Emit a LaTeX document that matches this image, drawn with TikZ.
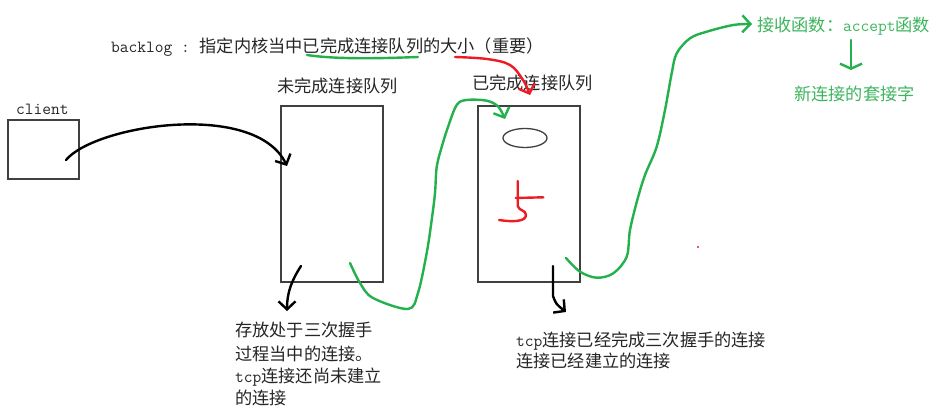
\documentclass[tikz,border=0pt]{standalone}
\usepackage{fontspec}
\setmainfont{Noto Sans CJK SC}
\usetikzlibrary{arrows.meta}
\definecolor{pgreen}{HTML}{22B14C}
\definecolor{pred}{HTML}{ED1C24}
\definecolor{tgray}{HTML}{262626}
\definecolor{tgreen}{HTML}{3DB55E}
\definecolor{boxgray}{HTML}{404040}
\newcommand{\cjktext}{\fontsize{17.2}{20}\selectfont}
\newcommand{\latmono}{\ttfamily\fontsize{17}{20}\selectfont}
\begin{document}
\begin{tikzpicture}[x=1pt,y=-1pt,
  lbl/.style={anchor=base west, inner sep=0pt, text=tgray, font=\cjktext},
  glbl/.style={lbl, text=tgreen},
  boxs/.style={draw=boxgray, line width=1.4pt, inner sep=0pt},
  pen/.style={line width=2.4pt, line cap=round, line join=round},
  barb/.style={-{Straight Barb[length=8pt,width=17pt]}}
]
\useasboundingbox[fill=white] (0,0) rectangle (938,411);

% boxes
\node[boxs, minimum width=71, minimum height=59] (client) at (43.5,149.5) {};
\node[boxs, minimum width=102, minimum height=176] (pending) at (332,194) {};
\node[boxs, minimum width=102, minimum height=176] (done) at (529,194) {};
\draw[boxgray, line width=1.3pt] (525,138) ellipse [x radius=22, y radius=9.5];

% labels
\node[lbl] (clientlbl) at (16,115) {\latmono client};
\node[lbl] (backlog) at (111,53) {{\latmono backlog :\ }\hspace{1pt}指定内核当中已完成连接队列的大小（重要）};
\node[lbl] (pendlbl) at (277,92.5) {未完成连接队列};
\node[lbl] (donelbl) at (472,90) {已完成连接队列};
\node[glbl] (accept) at (757,32) {接收函数：{\latmono accept}函数};
\node[glbl] (newsock) at (794,101) {新连接的套接字};
\node[lbl] (p1) at (235,337) {存放处于三次握手};
\node[lbl] (p2) at (235,361) {过程当中的连接。};
\node[lbl] (p3) at (235,383) {{\latmono tcp}连接还尚未建立};
\node[lbl] (p4) at (235,405) {的连接};
\node[lbl] (d1) at (516,347) {{\latmono tcp}连接已经完成三次握手的连接};
\node[lbl] (d2) at (516,368) {连接已经建立的连接};

% coordinates
\coordinate (cs) at (66,160);
\coordinate (ce) at (287,166);
\coordinate (ps) at (301,266);
\coordinate (pe) at (287,311);
\coordinate (ds) at (553,266);
\coordinate (de) at (566,312);
\coordinate (as) at (851,40);
\coordinate (ae) at (851,70);

% black arrows
\draw[pen, black, barb] (cs) .. controls (95,125) and (255,100) .. (ce);
\draw[pen, black, barb] (ps) .. controls (292,280) and (287,292) .. (pe);
\draw[pen, black, barb] (ds) -- (553,296) .. controls (556,304) .. (de);

% green strokes
\draw[pen, pgreen] (307,55) .. controls (340,60) and (390,58) .. (418,57);
\draw[pen, pgreen, barb] plot[smooth, tension=0.55] coordinates {
  (350,263) (360,283) (373,298) (408,309) (418,293) (426.7,253) (431.7,220)
  (435,193) (436.7,167) (441.7,147) (448,127) (456.7,105) (466.7,100)
  (486.7,100.7) (498.3,106.7) (505,119)};
\draw[pen, pgreen, barb] plot[smooth, tension=0.55] coordinates {
  (566,258) (580,271.7) (596.7,277.7) (613.3,273.3) (626.7,256.7) (630,230)
  (637.3,200) (645,175) (656.7,146.7) (665,110) (671.7,73.3) (676.7,53.3)
  (690,38.3) (706.7,31.7) (733.3,25) (752,24)};
\draw[pen, pgreen, -{Straight Barb[length=5pt,width=22pt]}] (as) -- (ae);

% red strokes
\draw[pen, pred, barb] plot[smooth, tension=0.6] coordinates {
  (455,57) (487,59) (510,65) (523,80) (530,95)};
\draw[pen, pred] (517.7,181) -- (517.7,206) .. controls (519,211) and (526,210) .. (526,215)
  .. controls (526,222) and (512,222) .. (499,220);
\draw[pen, pred] (515.7,198) -- (543.3,197.3);
\fill[pred] (698,247) circle (1.2);
\end{tikzpicture}
\end{document}
